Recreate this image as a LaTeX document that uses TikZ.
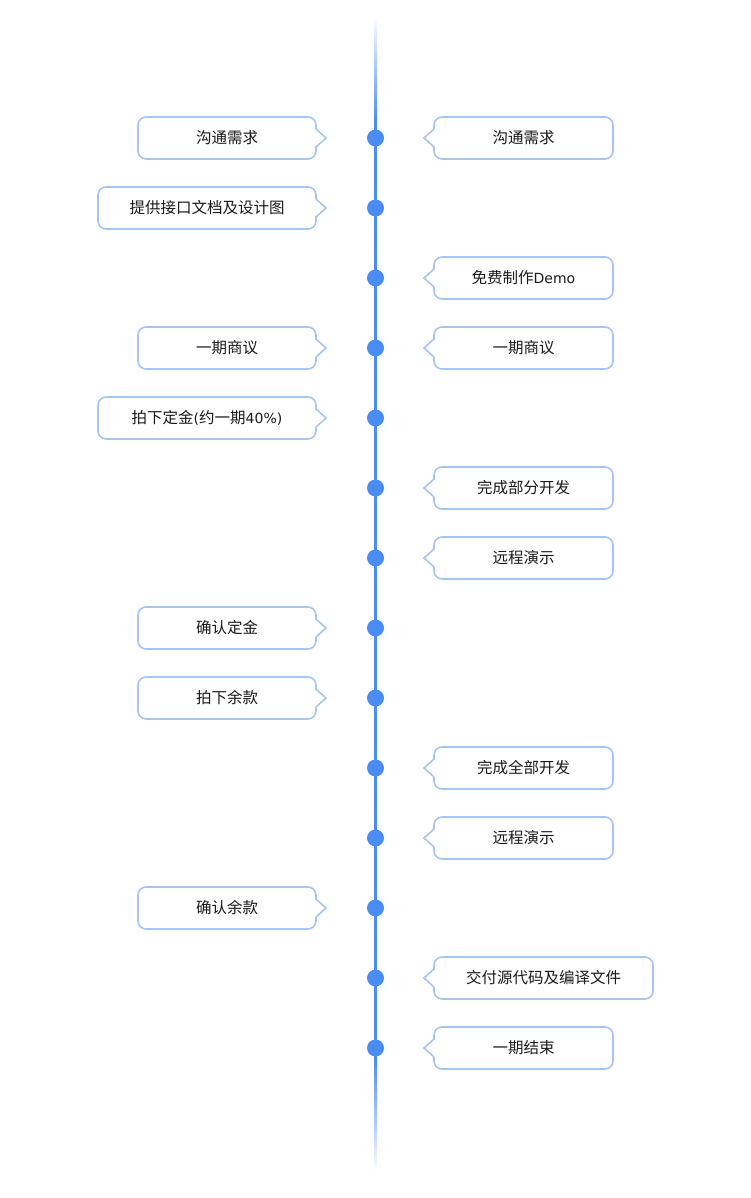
\documentclass[tikz,border=0pt]{standalone}
\usepackage{fontspec}
\setmainfont{Noto Sans CJK SC}
\newfontfamily\latinfont{DejaVu Sans}
\usetikzlibrary{calc}
\definecolor{linecol}{HTML}{4B8BF4}
\definecolor{boxcol}{HTML}{A6C4F4}
\definecolor{txtcol}{HTML}{1A1A1A}
\tikzset{
  callout/.style={draw=boxcol, line width=1.6pt, rounded corners=8pt, minimum height=42pt,
    inner sep=0pt, outer sep=0pt, font=\fontsize{15.5pt}{18pt}\selectfont, text=txtcol, fill=white},
  pointer/.style={draw=boxcol, line width=1.6pt, line join=miter},
  dotnode/.style={circle, fill=linecol, minimum size=17pt, inner sep=0pt, outer sep=0pt}
}
\newcommand{\lat}[1]{{\latinfont\fontsize{14pt}{18pt}\selectfont #1}}
\newcommand{\mkleft}[4]{% #1 name, #2 y, #3 left x, #4 text
  \node[callout, minimum width={316pt-#3pt}] (#1) at ({(#3+316)/2},#2) {#4};
  \fill[white] ([xshift=-1.2pt,yshift=8.5pt]#1.east) rectangle ([xshift=1.2pt,yshift=-8.5pt]#1.east);
  \draw[pointer] ([yshift=9pt]#1.east) -- ([xshift=10pt]#1.east) -- ([yshift=-9pt]#1.east);
}
\newcommand{\mkright}[4]{% #1 name, #2 y, #3 right x, #4 text
  \node[callout, minimum width={#3pt-434pt}] (#1) at ({(#3+434)/2},#2) {#4};
  \fill[white] ([xshift=-1.2pt,yshift=8.5pt]#1.west) rectangle ([xshift=1.2pt,yshift=-8.5pt]#1.west);
  \draw[pointer] ([yshift=9pt]#1.west) -- ([xshift=-10pt]#1.west) -- ([yshift=-9pt]#1.west);
}
\begin{document}
\begin{tikzpicture}[x=1pt,y=-1pt]
\useasboundingbox (0,0) rectangle (750,1198);
% timeline
\coordinate (ltop) at (375.5,16);
\coordinate (lfadeA) at (375.5,122);
\coordinate (lfadeB) at (375.5,1058);
\coordinate (lbot) at (375.5,1172);
\shade[top color=white, bottom color=linecol] ([xshift=-1.5pt]ltop) rectangle ([xshift=1.5pt]lfadeA);
\fill[linecol] ([xshift=-1.5pt]lfadeA) rectangle ([xshift=1.5pt]lfadeB);
\shade[top color=linecol, bottom color=white] ([xshift=-1.5pt]lfadeB) rectangle ([xshift=1.5pt]lbot);
% dots
\foreach \i in {0,...,13} {
  \node[dotnode] (d\i) at (375.5,{138+70*\i}) {};
}
% boxes
\mkleft{l0}{138}{138}{沟通需求}
\mkright{r0}{138}{613}{沟通需求}
\mkleft{l1}{208}{98}{提供接口文档及设计图}
\mkright{r2}{278}{613}{免费制作\lat{Demo}}
\mkleft{l3}{348}{138}{一期商议}
\mkright{r3}{348}{613}{一期商议}
\mkleft{l4}{418}{98}{拍下定金\lat{(}约一期\lat{40\%)}}
\mkright{r5}{488}{613}{完成部分开发}
\mkright{r6}{558}{613}{远程演示}
\mkleft{l7}{628}{138}{确认定金}
\mkleft{l8}{698}{138}{拍下余款}
\mkright{r9}{768}{613}{完成全部开发}
\mkright{r10}{838}{613}{远程演示}
\mkleft{l11}{908}{138}{确认余款}
\mkright{r12}{978}{653}{交付源代码及编译文件}
\mkright{r13}{1048}{613}{一期结束}
\end{tikzpicture}
\end{document}
